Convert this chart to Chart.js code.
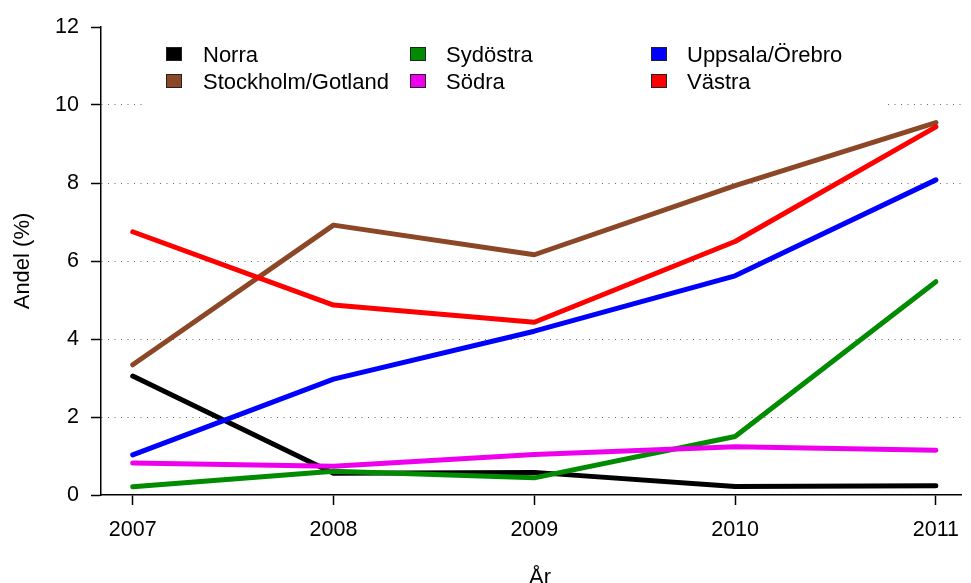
<!DOCTYPE html>
<html>
<head>
<meta charset="utf-8">
<script src="https://cdn.jsdelivr.net/npm/chart.js@4.4.0/dist/chart.umd.min.js"></script>
<style>
  html, body { margin: 0; padding: 0; background: #fff; }
  canvas { display: block; }
</style>
</head>
<body>
<canvas id="chart" width="971" height="583"></canvas>
<script>
// --- data ---
const years = [2007, 2008, 2009, 2010, 2011];
const yTicks = [0, 2, 4, 6, 8, 10, 12];

const regions = ['Norra', 'Stockholm/Gotland', 'Sydöstra', 'Södra', 'Uppsala/Örebro', 'Västra'];
const colors  = ['#000000', '#8B4726', '#008B00', '#EE00EE', '#0000FF', '#FF0000'];

const norra     = [3.05, 0.56, 0.58, 0.22, 0.24];
const stockholm = [3.34, 6.92, 6.16, 7.93, 9.55];
const sydostra  = [0.21, 0.61, 0.44, 1.50, 5.47];
const sodra     = [0.82, 0.74, 1.04, 1.24, 1.15];
const uppsala   = [1.03, 2.97, 4.20, 5.62, 8.08];
const vastra    = [6.75, 4.87, 4.43, 6.50, 9.44];

const series = [norra, stockholm, sydostra, sodra, uppsala, vastra];

const FONT = '"Liberation Sans", Arial, Helvetica, sans-serif';

// legend drawn in R style: 3 columns, filled column by column
const legendPlugin = {
    id: 'rLegend',
    afterDatasetsDraw(chart) {
        const c = chart.ctx;
        c.save();
        c.fillStyle = '#fff';
        c.fillRect(143, 30, 741, 78);
        c.font = '22px ' + FONT;
        c.textBaseline = 'alphabetic';
        c.textAlign = 'left';
        const boxX = [166, 410, 651];
        const txtX = [203, 446, 687];
        const rowY = [54, 81];
        chart.data.datasets.forEach((ds, i) => {
            const col = Math.floor(i / 2), row = i % 2;
            c.fillStyle = ds.borderColor;
            c.fillRect(boxX[col], rowY[row] - 7, 16, 14);
            c.strokeStyle = '#222';
            c.lineWidth = 1;
            c.strokeRect(boxX[col] + 0.5, rowY[row] - 6.5, 15, 13);
            c.fillStyle = '#000';
            c.fillText(ds.label, txtX[col], rowY[row] + 7.5);
        });
        c.restore();
    },
    afterDraw(chart) {
        const c = chart.ctx;
        c.save();
        c.fillStyle = '#000';
        c.font = '22px ' + FONT;
        c.textAlign = 'center';
        c.textBaseline = 'alphabetic';
        c.fillText('År', 540, 584);
        c.translate(29, 261);
        c.rotate(-Math.PI / 2);
        c.fillText('Andel (%)', 0, 0);
        c.restore();
    }
};

const ctx = document.getElementById('chart').getContext('2d');
new Chart(ctx, {
    type: 'line',
    data: {
        datasets: regions.map((name, i) => ({
            label: name,
            data: years.map((yr, j) => ({ x: yr, y: series[i][j] })),
            borderColor: colors[i],
            backgroundColor: colors[i],
            borderWidth: 5,
            borderCapStyle: 'round',
            borderJoinStyle: 'round',
            pointRadius: 0,
            tension: 0,
            order: regions.length - i
        }))
    },
    options: {
        responsive: false,
        animation: false,
        devicePixelRatio: 1,
        layout: { padding: { top: 27, right: 0, left: 0, bottom: 0 } },
        plugins: {
            legend: { display: false },
            tooltip: { enabled: false }
        },
        scales: {
            x: {
                type: 'linear',
                min: 2006.842,
                max: 2011.128,
                afterBuildTicks: s => { s.ticks = years.map(v => ({ value: v })); },
                afterFit: s => { s.height = 88; },
                ticks: {
                    color: '#000',
                    font: { family: FONT, size: 21.5 },
                    padding: 12,
                    maxRotation: 0,
                    autoSkip: false,
                    callback: v => String(v)
                },
                grid: {
                    drawOnChartArea: false,
                    drawTicks: true,
                    tickLength: 10,
                    tickColor: '#000',
                    tickWidth: 1.5
                },
                border: { display: true, color: '#000', width: 1.5 }
            },
            y: {
                min: 0,
                max: 12,
                afterBuildTicks: s => { s.ticks = yTicks.map(v => ({ value: v })); },
                afterFit: s => { s.width = 101; },
                ticks: {
                    color: '#000',
                    font: { family: FONT, size: 21.5 },
                    padding: 12,
                    callback: v => String(v)
                },
                grid: {
                    color: c => (c.tick && (c.tick.value === 0 || c.tick.value === 12)) ? 'rgba(0,0,0,0)' : '#666',
                    lineWidth: 1,
                    drawTicks: true,
                    tickLength: 10,
                    tickColor: '#000',
                    tickWidth: 1.5,
                    tickBorderDash: []
                },
                // in v4 border.dash sets the dash of the grid lines
                border: { display: true, color: '#000', width: 1.5, dash: [1, 5.5] }
            }
        }
    },
    plugins: [legendPlugin]
});
</script>
</body>
</html>
